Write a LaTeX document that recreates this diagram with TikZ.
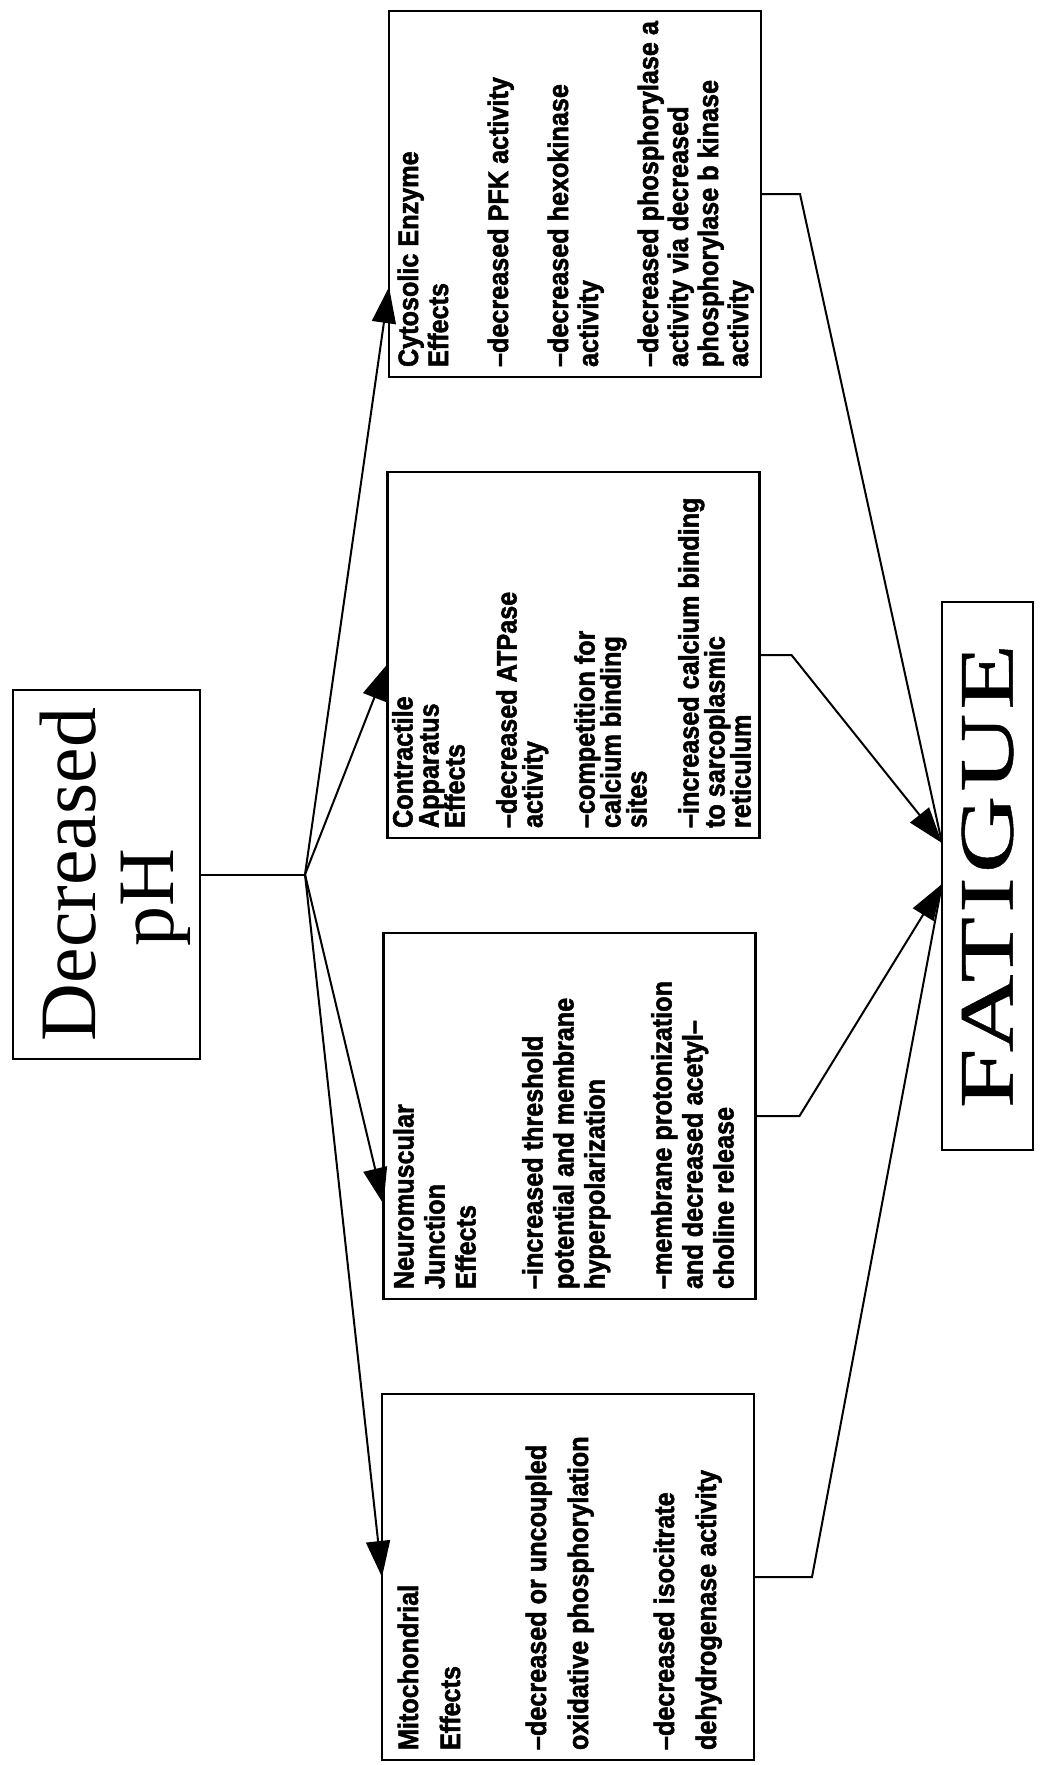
\documentclass[tikz,border=0pt]{standalone}
\usepackage{fontspec}
\usepackage{graphicx}
\usetikzlibrary{arrows.meta,calc}
\newfontfamily\bxfont[FakeStretch=0.9,FakeBold=1.8]{Liberation Sans}
\newfontfamily\titlefont{Liberation Serif}
\newfontfamily\fatfont[FakeStretch=1.4,LetterSpace=5,FakeBold=0.6]{Liberation Serif}
% one line of box text
\newcommand{\bxl}[1]{\hbox to \hsize{\kern10pt\vrule height21pt depth0pt width0pt #1\hss}}
% #1 baselineskip, #2 top padding, #3 lines
\newcommand{\effbox}[3]{\rotatebox{90}{\parbox[c][372pt][t]{366pt}{\bxfont\bfseries\fontsize{28}{#1}\selectfont\lineskiplimit=-\maxdimen\vspace*{#2}#3}}}
\begin{document}
\begin{tikzpicture}[x=1pt,y=-1pt,
  line/.style={line width=2pt},
  arr/.style={line width=2pt,-{Triangle[length=36pt,width=24pt]}},
  box/.style={draw,line width=2.2pt,inner sep=0pt,outer sep=0pt}]
\fill[white] (0,0) rectangle (1042,1765);
\useasboundingbox (0,0) rectangle (1042,1765);

\node[box,minimum width=187pt,minimum height=369pt] (ph) at (106.5,874.5)
  {\rotatebox{90}{\raisebox{-12pt}[\height][\depth]{\titlefont\fontsize{80}{78}\selectfont\begin{tabular}{@{}c@{}}Decreased\\pH\hspace*{47pt}\end{tabular}}}};

\node[box] (cyto) at (575,194) {\effbox{30pt}{8pt}{%
 \bxl{Cytosolic Enzyme}\bxl{Effects}\vskip30pt
 \bxl{–decreased PFK activity}\vskip30pt
 \bxl{–decreased hexokinase}\bxl{activity}\vskip30pt
 \bxl{–decreased phosphorylase a}\bxl{activity via decreased}\bxl{phosphorylase b kinase}\bxl{activity}}};

\node[box] (con) at (573.5,655) {\effbox{26pt}{4pt}{%
 \bxl{Contractile}\bxl{Apparatus}\bxl{Effects}\vskip26pt
 \bxl{–decreased ATPase}\bxl{activity}\vskip26pt
 \bxl{–competition for}\bxl{calcium binding}\bxl{sites}\vskip26pt
 \bxl{–increased calcium binding}\bxl{to sarcoplasmic}\bxl{reticulum}}};

\node[box] (neu) at (569.5,1116) {\effbox{31pt}{9pt}{%
 \bxl{Neuromuscular}\bxl{Junction}\bxl{Effects}\vskip36pt
 \bxl{–increased threshold}\bxl{potential and membrane}\bxl{hyperpolarization}\vskip36pt
 \bxl{–membrane protonization}\bxl{and decreased acetyl–}\bxl{choline release}}};

\node[box] (mit) at (568,1577) {\effbox{42pt}{15pt}{%
 \bxl{Mitochondrial}\bxl{Effects}\vskip44pt
 \bxl{–decreased or uncoupled}\bxl{oxidative phosphorylation}\vskip44pt
 \bxl{–decreased isocitrate}\bxl{dehydrogenase activity}}};

\node[box,minimum width=91pt,minimum height=548pt] (fat) at (987.5,876)
  {\rotatebox{90}{\fatfont\fontsize{77}{77}\selectfont FATIGUE}};

\coordinate (B) at ($(ph.east)+(105,0)$);
\draw[line] (ph.east) -- (B);
\draw[arr] (B) -- ($(cyto.west)+(0,93)$);
\draw[arr] (B) -- ($(con.west)+(0,9)$);
\draw[arr] (B) -- ($(neu.west)+(0,88)$);
\draw[arr] (B) -- (mit.west);

\draw[line] (cyto.east) -- ++(39,0) -- ($(fat.west)+(0,-33)$);
\draw[arr] (con.east) -- ++(32,0) -- ($(fat.west)+(0,-33)$);
\draw[arr] (neu.east) -- ++(44,0) -- ($(fat.west)+(0,8)$);
\draw[line] (mit.east) -- ++(58,0) -- ($(fat.west)+(0,8)$);
\end{tikzpicture}
\end{document}
